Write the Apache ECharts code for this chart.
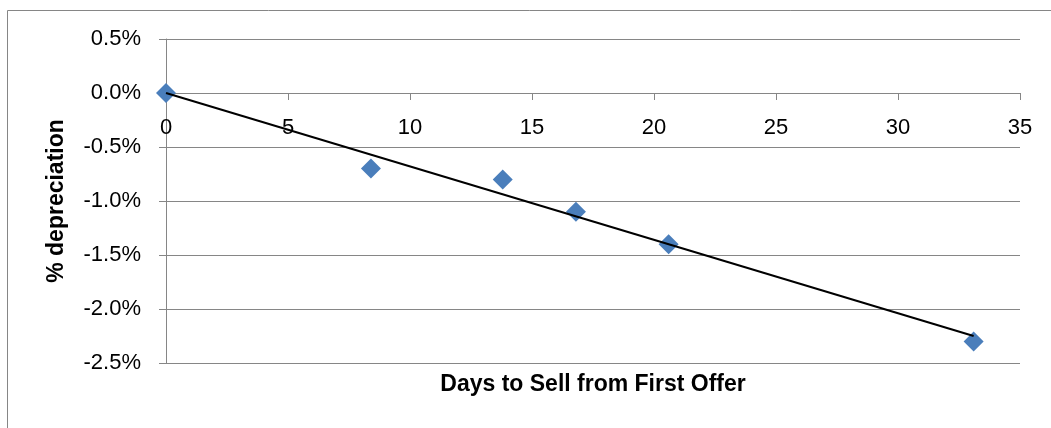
<!DOCTYPE html>
<html>
<head>
<meta charset="utf-8">
<script src="https://cdn.jsdelivr.net/npm/echarts@6/dist/echarts.min.js"></script>
<style>
html,body{margin:0;padding:0;background:#fff;}
#chart{width:1051px;height:428px;}
</style>
</head>
<body>
<div id="chart"></div>
<script>
// Observed points: days to sell vs % depreciation
const days = [0, 8.4, 13.8, 16.8, 20.6, 33.1];
const depreciation = [0.0, -0.7, -0.8, -1.1, -1.4, -2.3];
// Linear trendline endpoints
const trendDays = [0, 33.1];
const trendValues = [0.0, -2.25];
const xTicks = [0, 5, 10, 15, 20, 25, 30, 35];
const yTicks = [-2.5, -2.0, -1.5, -1.0, -0.5, 0.0, 0.5];

const points = days.map((d, i) => [d, depreciation[i]]);
const trend = trendDays.map((d, i) => [d, trendValues[i]]);

const font = '"Liberation Sans", Arial, sans-serif';
const gridTop = 39, gridBottom = 65, chartH = 428;
const plotH = chartH - gridTop - gridBottom;
const yMin = yTicks[0], yMax = yTicks[yTicks.length - 1];
// move x axis up so it sits on the zero line (like Excel's crossing axis)
const zeroOffset = -plotH * (0 - yMin) / (yMax - yMin);

const chart = echarts.init(document.getElementById('chart'));
chart.setOption({
  animation: false,
  backgroundColor: '#fff',
  textStyle: { fontFamily: font },
  graphic: [{
    type: 'rect',
    shape: { x: 7.5, y: 10.5, width: 1100, height: 500 },
    style: { fill: 'none', stroke: '#868686', lineWidth: 1 },
    silent: true
  }],
  grid: { left: 166, top: gridTop, right: 31, bottom: gridBottom, containLabel: false, outerBoundsMode: 'none' },
  xAxis: {
    type: 'value',
    min: xTicks[0], max: xTicks[xTicks.length - 1], interval: 5,
    offset: zeroOffset,
    name: 'Days to Sell from First Offer',
    nameLocation: 'middle', nameGap: 280,
    nameTextStyle: { fontSize: 23, fontWeight: 'bold', color: '#000', fontFamily: font },
    axisLine: { onZero: false, lineStyle: { color: '#868686', width: 1 } },
    axisTick: { show: true, length: 7, lineStyle: { color: '#868686' } },
    axisLabel: { fontSize: 22, color: '#000', margin: 24, fontFamily: font },
    splitLine: { show: false }
  },
  yAxis: {
    type: 'value',
    min: yMin, max: yMax, interval: 0.5,
    name: '% depreciation',
    nameLocation: 'middle', nameGap: 98,
    nameTextStyle: { fontSize: 23, fontWeight: 'bold', color: '#000', fontFamily: font },
    axisLine: { show: true, onZero: false, lineStyle: { color: '#868686', width: 1 } },
    axisTick: { show: true, length: 7, lineStyle: { color: '#868686' } },
    axisLabel: { fontSize: 22, color: '#000', margin: 25, fontFamily: font,
      formatter: v => v.toFixed(1) + '%' },
    splitLine: { show: true, lineStyle: { color: '#868686', width: 1 } }
  },
  series: [
    {
      type: 'scatter',
      data: points,
      symbol: 'diamond',
      symbolSize: 20,
      itemStyle: { color: '#4A7EBB', opacity: 1 },
      z: 2
    },
    {
      type: 'line',
      data: trend,
      showSymbol: false,
      symbol: 'none',
      lineStyle: { color: '#000', width: 2 },
      z: 3
    }
  ]
});
</script>
</body>
</html>
